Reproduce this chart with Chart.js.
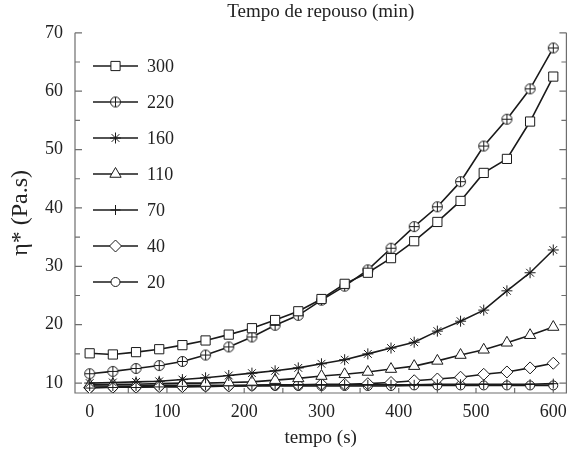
<!DOCTYPE html>
<html>
<head>
<meta charset="utf-8">
<script src="https://cdn.jsdelivr.net/npm/chart.js@4.4.1/dist/chart.umd.min.js"></script>
<style>
  html, body { margin: 0; padding: 0; background: #fff; }
  #wrap { width: 575px; height: 450px; }
</style>
</head>
<body>
<div id="wrap"><canvas id="chart" width="575" height="450"></canvas></div>
<script>
// tempo (s)
const times = [0, 30, 60, 90, 120, 150, 180, 210, 240, 270, 300, 330, 360, 390, 420, 450, 480, 510, 540, 570, 600]

// tempo de repouso (min)
const restLabels = ['300', '220', '160', '110', '70', '40', '20']

// eta* (Pa.s)
const eta300 = [15.1, 14.9, 15.3, 15.8, 16.5, 17.3, 18.3, 19.4, 20.8, 22.3, 24.4, 27.0, 28.9, 31.4, 34.3, 37.6, 41.2, 46.0, 48.4, 54.8, 62.5]
const eta220 = [11.6, 12.0, 12.5, 13.0, 13.7, 14.8, 16.2, 17.9, 19.9, 21.6, 24.2, 26.6, 29.4, 33.1, 36.8, 40.2, 44.5, 50.6, 55.2, 60.4, 67.4]
const eta160 = [10.0, 10.1, 10.2, 10.3, 10.6, 10.9, 11.3, 11.7, 12.1, 12.6, 13.3, 14.0, 15.0, 16.0, 17.0, 18.9, 20.6, 22.5, 25.8, 28.9, 32.8]
const eta110 = [9.7, 9.8, 9.8, 9.9, 10.0, 10.0, 10.1, 10.2, 10.5, 10.8, 11.2, 11.5, 11.9, 12.4, 12.9, 13.8, 14.8, 15.7, 16.9, 18.2, 19.6]
const eta70 = [9.5, 9.5, 9.5, 9.6, 9.6, 9.6, 9.6, 9.6, 9.7, 9.7, 9.7, 9.7, 9.7, 9.7, 9.7, 9.8, 9.8, 9.8, 9.8, 9.8, 9.9]
const eta40 = [9.2, 9.3, 9.3, 9.4, 9.4, 9.5, 9.5, 9.6, 9.7, 9.7, 9.8, 9.8, 9.9, 10.1, 10.4, 10.7, 11.0, 11.5, 11.9, 12.6, 13.4]
const eta20 = [9.2, 9.3, 9.3, 9.4, 9.4, 9.4, 9.5, 9.5, 9.5, 9.5, 9.5, 9.5, 9.5, 9.5, 9.6, 9.6, 9.6, 9.6, 9.6, 9.6, 9.6]

const xTicks = [0, 100, 200, 300, 400, 500, 600]
const xMinorTicks = [0, 50, 100, 150, 200, 250, 300, 350, 400, 450, 500, 550, 600]
const yTicks = [10, 20, 30, 40, 50, 60, 70]
const yMinorTicks = [10, 15, 20, 25, 30, 35, 40, 45, 50, 55, 60, 65, 70]

const SERIF = '"Liberation Serif", "DejaVu Serif", serif'
const INK = '#1a1a1a'
const AXIS = '#6e6e6e'

Chart.defaults.font.family = SERIF
Chart.defaults.color = '#222'

// circle with a plus inside, used for the 220 series
function circlePlus(r) {
  const c = document.createElement('canvas')
  const s = Math.ceil(r * 2 + 3)
  c.width = s
  c.height = s
  const g = c.getContext('2d')
  const m = s / 2
  g.lineWidth = 1
  g.strokeStyle = INK
  g.fillStyle = '#fff'
  g.beginPath()
  g.arc(m, m, r, 0, Math.PI * 2)
  g.fill()
  g.stroke()
  g.beginPath()
  g.moveTo(m - r, m)
  g.lineTo(m + r, m)
  g.moveTo(m, m - r)
  g.lineTo(m, m + r)
  g.stroke()
  return c
}

const makeSet = (label, values, pointStyle, radius) => ({
  label,
  data: times.map((t, i) => ({ x: t, y: values[i] })),
  borderColor: INK,
  borderWidth: 1.6,
  pointStyle,
  pointRadius: radius,
  pointBorderColor: INK,
  pointBackgroundColor: '#fff',
  pointBorderWidth: 1,
  tension: 0,
})

const datasets = [
  makeSet(restLabels[0], eta300, 'rect', 6.5),
  makeSet(restLabels[1], eta220, circlePlus(5), 5),
  makeSet(restLabels[2], eta160, 'star', 5.5),
  makeSet(restLabels[3], eta110, 'triangle', 6.5),
  makeSet(restLabels[4], eta70, 'cross', 5),
  makeSet(restLabels[5], eta40, 'rectRot', 6),
  makeSet(restLabels[6], eta20, 'circle', 4.5),
]

// axis lines with inward ticks (left, right, bottom)
const framePlugin = {
  id: 'frame',
  beforeDatasetsDraw(chart) {
    const { ctx, chartArea: a, scales } = chart
    ctx.save()
    ctx.strokeStyle = AXIS
    ctx.lineWidth = 1.2
    ctx.beginPath()
    ctx.moveTo(a.left, a.top)
    ctx.lineTo(a.left, a.bottom)
    ctx.lineTo(a.right, a.bottom)
    ctx.lineTo(a.right, a.top)
    yMinorTicks.forEach((v) => {
      const py = scales.y.getPixelForValue(v)
      const len = v % 10 === 0 ? 7 : 5
      ctx.moveTo(a.left, py)
      ctx.lineTo(a.left + len, py)
      ctx.moveTo(a.right, py)
      ctx.lineTo(a.right - len, py)
    })
    xMinorTicks.forEach((v) => {
      const px = scales.x.getPixelForValue(v)
      ctx.moveTo(px, a.bottom)
      ctx.lineTo(px, a.bottom - 5)
    })
    ctx.stroke()
    ctx.restore()
  },
}

// vertical legend inside the plot, top-left
const legendPlugin = {
  id: 'innerLegend',
  afterDatasetsDraw(chart) {
    const { ctx } = chart
    const drawPoint = Chart.helpers && Chart.helpers.drawPoint
    ctx.save()
    chart.data.datasets.forEach((ds, i) => {
      const yy = 66 + i * 36
      ctx.strokeStyle = ds.borderColor
      ctx.lineWidth = ds.borderWidth
      ctx.beginPath()
      ctx.moveTo(93, yy)
      ctx.lineTo(138, yy)
      ctx.stroke()
      ctx.fillStyle = '#fff'
      ctx.strokeStyle = ds.pointBorderColor
      ctx.lineWidth = 1
      if (drawPoint) {
        drawPoint(ctx, { pointStyle: ds.pointStyle, radius: ds.pointRadius, rotation: 0, borderWidth: 1 }, 115.5, yy)
      }
      ctx.fillStyle = '#222'
      ctx.font = '18px ' + SERIF
      ctx.textBaseline = 'middle'
      ctx.textAlign = 'left'
      ctx.fillText(ds.label, 147, yy + 1)
    })
    ctx.restore()
  },
}

const config = {
  type: 'line',
  data: { datasets },
  options: {
    responsive: false,
    animation: false,
    layout: { padding: { left: 0, right: 2, top: 0, bottom: 0 } },
    plugins: {
      legend: { display: false },
      tooltip: { enabled: false },
      title: {
        display: true,
        fullSize: false,
        text: 'Tempo de repouso (min)',
        color: '#222',
        font: { size: 19, weight: 'normal' },
        padding: { top: 1, bottom: 9 },
      },
    },
    scales: {
      x: {
        type: 'linear',
        min: -19,
        max: 617,
        afterBuildTicks: (axis) => { axis.ticks = xTicks.map((v) => ({ value: v })) },
        afterFit: (axis) => { axis.height = 57 },
        grid: { display: false, drawTicks: false },
        border: { display: false },
        ticks: { padding: 8, autoSkip: false, maxRotation: 0, color: '#222', font: { size: 18 } },
        title: { display: true, text: 'tempo (s)', color: '#222', font: { size: 19 }, padding: { top: 0, bottom: 1 } },
      },
      y: {
        type: 'linear',
        min: 8.3,
        max: 70,
        afterBuildTicks: (axis) => { axis.ticks = yTicks.map((v) => ({ value: v })) },
        afterFit: (axis) => { axis.width = 75 },
        grid: { display: false, drawTicks: false },
        border: { display: false },
        ticks: { padding: 12, color: '#222', font: { size: 18 } },
        title: { display: true, text: 'η* (Pa.s)', color: '#222', font: { size: 24 }, padding: { top: 6, bottom: 0 } },
      },
    },
  },
  plugins: [framePlugin, legendPlugin],
}

new Chart(document.getElementById('chart').getContext('2d'), config)
</script>
</body>
</html>
